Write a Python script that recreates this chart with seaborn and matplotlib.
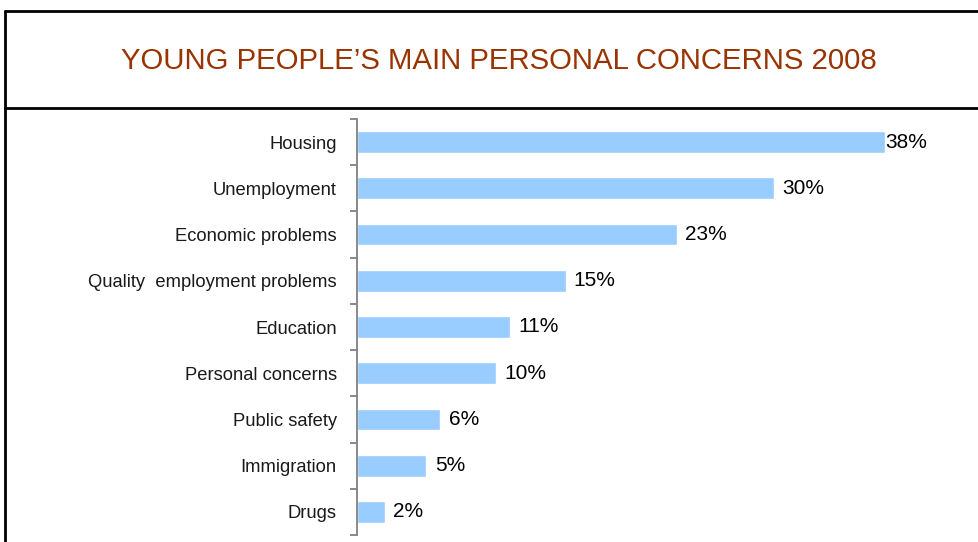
import matplotlib
matplotlib.use("Agg")
import matplotlib.pyplot as plt
from matplotlib.lines import Line2D
from matplotlib.ticker import FixedLocator
import seaborn as sns
import pandas as pd

# Survey results: share of young people naming each concern
concerns = ["Housing", "Unemployment", "Economic problems",
            "Quality  employment problems", "Education", "Personal concerns",
            "Public safety", "Immigration", "Drugs"]
shares = [38, 30, 23, 15, 11, 10, 6, 5, 2]
value_labels = ["38%", "30%", "23%", "15%", "11%", "10%", "6%", "5%", "2%"]

title = "YOUNG PEOPLE\u2019S MAIN PERSONAL CONCERNS 2008"

df = pd.DataFrame({"concern": concerns, "share": shares})

sns.set_theme(style="white")
plt.rcParams["font.family"] = ["Liberation Sans", "DejaVu Sans"]

W, H = 979, 542
fig = plt.figure(figsize=(W / 100, H / 100), dpi=100)
fig.patch.set_facecolor("white")

# plot area in pixel terms
left_px, right_px, top_px, bottom_px = 357, 913, 119, 535
ax = fig.add_axes([left_px / W, 1 - bottom_px / H,
                   (right_px - left_px) / W, (bottom_px - top_px) / H])

sns.barplot(data=df, x="share", y="concern", orient="h", color="#99CCFF",
            saturation=1, width=0.47, ax=ax)

ax.set_xlim(0, (right_px - left_px) / 13.9)
ax.set_ylim(len(concerns) - 0.5, -0.5)
ax.set_xlabel("")
ax.set_ylabel("")
ax.set_xticks([])

for s in ["top", "right", "bottom"]:
    ax.spines[s].set_visible(False)
ax.spines["left"].set_color("#808080")
ax.spines["left"].set_linewidth(1.3)

# category labels without tick marks, boundary ticks between bars
ax.tick_params(axis="y", which="major", length=0, pad=14.5)
ax.yaxis.set_minor_locator(FixedLocator([i - 0.5 for i in range(len(concerns) + 1)]))
ax.tick_params(axis="y", which="minor", left=True, length=5, width=1.3,
               color="#808080", direction="out")
for lbl in ax.get_yticklabels():
    lbl.set_fontsize(13.2)
    lbl.set_color("#1a1a1a")

# value labels at the end of each bar
top_val = max(shares)
for i, (v, t) in enumerate(zip(shares, value_labels)):
    pad = 0 if v == top_val else 6
    ax.annotate(t, xy=(v, i), xytext=(pad, 0), textcoords="offset points",
                ha="left", va="center", fontsize=15, color="black",
                annotation_clip=False)

# framing lines around the title panel
lw = 2.0
fig.add_artist(Line2D([5 / W, 5 / W], [0, 1 - 11 / H], color="black",
                      lw=lw, transform=fig.transFigure))
fig.add_artist(Line2D([5 / W, 1], [1 - 11 / H, 1 - 11 / H], color="black",
                      lw=lw, transform=fig.transFigure))
fig.add_artist(Line2D([5 / W, 1], [1 - 107.5 / H, 1 - 107.5 / H], color="black",
                      lw=lw, transform=fig.transFigure))

fig.text(499 / W, 1 - 61 / H, title, ha="center", va="center",
         fontsize=21.2, fontweight="normal", color="#993300")

fig.savefig("out.png", dpi=100, facecolor="white")
